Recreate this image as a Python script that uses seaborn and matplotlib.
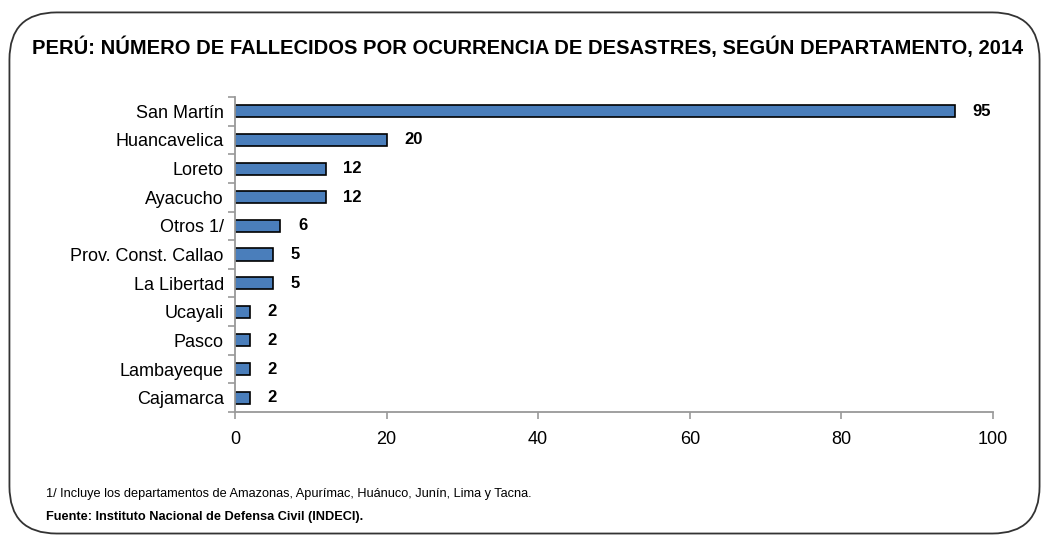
import matplotlib
matplotlib.use("Agg")
import matplotlib.pyplot as plt
import seaborn as sns
import pandas as pd
from matplotlib.patches import FancyBboxPatch
from matplotlib import font_manager

departamentos = ["San Martín", "Huancavelica", "Loreto", "Ayacucho", "Otros 1/",
                 "Prov. Const. Callao", "La Libertad", "Ucayali", "Pasco",
                 "Lambayeque", "Cajamarca"]
fallecidos = [95, 20, 12, 12, 6, 5, 5, 2, 2, 2, 2]
xticks = [0, 20, 40, 60, 80, 100]

titulo = "PERÚ: NÚMERO DE FALLECIDOS POR OCURRENCIA DE DESASTRES, SEGÚN DEPARTAMENTO, 2014"
nota = "1/ Incluye los departamentos de Amazonas, Apurímac, Huánuco, Junín, Lima y Tacna."
fuente = "Fuente: Instituto Nacional de Defensa Civil (INDECI)."

sns.set_style("white")
avail = {f.name for f in font_manager.fontManager.ttflist}
fam = "Liberation Sans Narrow" if "Liberation Sans Narrow" in avail else "Liberation Sans"
plt.rcParams['font.family'] = [fam, 'DejaVu Sans']
plt.rcParams['text.color'] = 'black'
plt.rcParams['xtick.color'] = 'black'
plt.rcParams['ytick.color'] = 'black'

df = pd.DataFrame({"dep": departamentos, "val": fallecidos})

fig = plt.figure(figsize=(10.49, 5.40), dpi=100)
ax = fig.add_axes([0.224, 0.237, 0.7226, 0.5834])

sns.barplot(data=df, y="dep", x="val", orient="h", color="#4A7EBB",
            edgecolor="black", linewidth=1.2, width=0.42, saturation=1, ax=ax)

for i, v in enumerate(fallecidos):
    ax.text(v + 2.3, i, str(v), va="center", ha="left", fontsize=12,
            fontweight="bold", color="black")

ax.set_xlim(0, 100)
ax.set_ylim(len(departamentos) - 0.5, -0.5)
ax.set_xticks(xticks)
ax.set_xticklabels([str(t) for t in xticks], fontsize=13)
ax.set_yticks(range(len(departamentos)))
ax.set_yticklabels(departamentos, fontsize=13)
ax.set_xlabel("")
ax.set_ylabel("")

for s in ["top", "right"]:
    ax.spines[s].set_visible(False)
for s in ["left", "bottom"]:
    ax.spines[s].set_color("#999999")
    ax.spines[s].set_linewidth(1.3)

ax.tick_params(axis="y", which="major", left=False, length=0, pad=8)
ax.tick_params(axis="x", bottom=True, length=5, color="#999999", width=1.2,
               direction="out", pad=9, labelcolor="black")
ax.set_yticks([i - 0.5 for i in range(len(departamentos) + 1)], minor=True)
ax.tick_params(axis="y", which="minor", left=True, length=5, color="#999999",
               width=1.2, direction="out")

fig.text(0.5025, 0.913, titulo, ha="center", va="center", fontsize=14.5,
         fontweight="bold", color="black")
fig.text(0.044, 0.086, nota, ha="left", va="center", fontsize=9.2, color="black")
fig.text(0.044, 0.042, fuente, ha="left", va="center", fontsize=9.2,
         fontweight="bold", color="black")

frame = FancyBboxPatch((0.009, 0.012), 0.982, 0.965, transform=fig.transFigure,
                       boxstyle="round,pad=0,rounding_size=0.045",
                       facecolor="none", edgecolor="#333333", linewidth=1.3,
                       mutation_aspect=1.94)
fig.patches.append(frame)

fig.savefig("out.png", dpi=100)
